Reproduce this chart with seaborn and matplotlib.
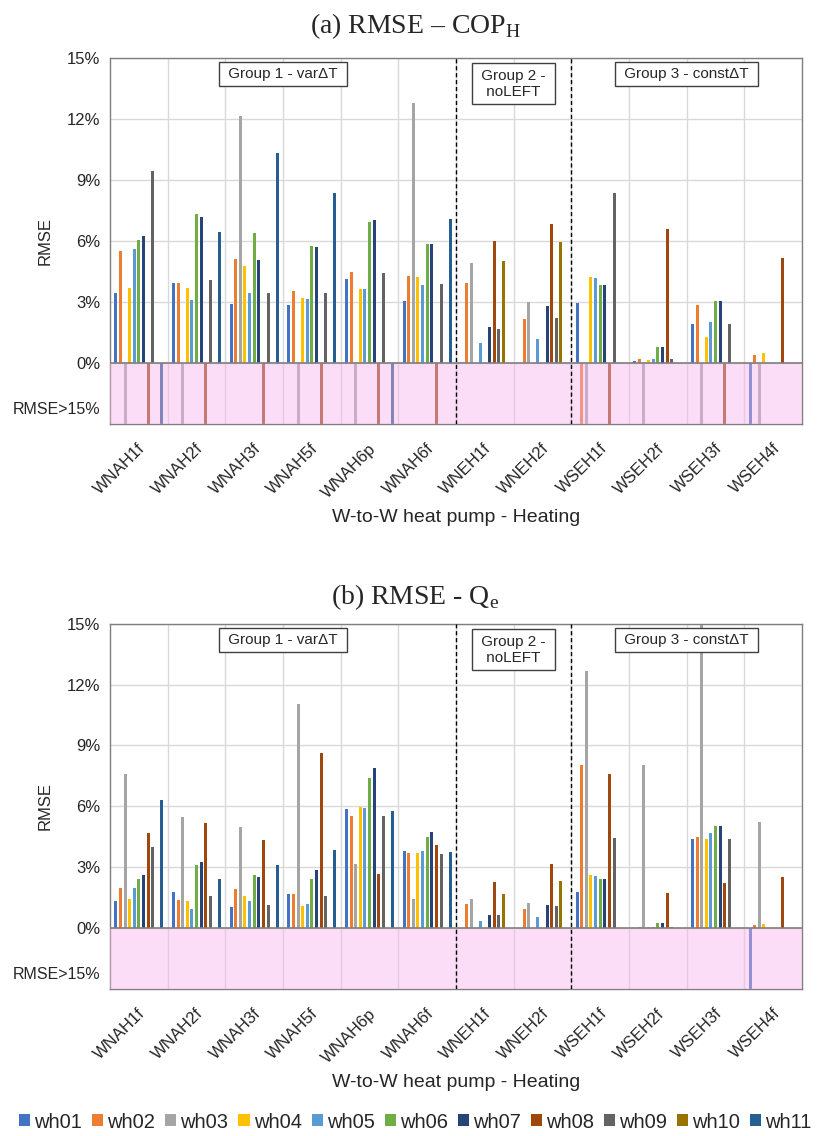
import numpy as np
import pandas as pd
import matplotlib
matplotlib.use('Agg')
import matplotlib.pyplot as plt
import matplotlib.transforms as mtransforms
from matplotlib.patches import Patch
import seaborn as sns

nan = np.nan
OVER = np.inf   # RMSE above 15 %, shown in the pink "RMSE>15%" band

cases = ['WNAH1f', 'WNAH2f', 'WNAH3f', 'WNAH5f', 'WNAH6p', 'WNAH6f',
         'WNEH1f', 'WNEH2f', 'WSEH1f', 'WSEH2f', 'WSEH3f', 'WSEH4f']
series = ['wh01', 'wh02', 'wh03', 'wh04', 'wh05', 'wh06',
          'wh07', 'wh08', 'wh09', 'wh10', 'wh11']
colors = ['#4472C4', '#ED7D31', '#A5A5A5', '#FFC000', '#5B9BD5', '#70AD47',
          '#264478', '#9E480E', '#636363', '#997300', '#255E91']

# (a) RMSE - COP_H  (%)
cop_wh01 = [3.44, 3.92, 2.87, 2.84, 4.13, 3.03, nan, nan, 2.93, 0.07, 1.89, OVER]
cop_wh02 = [5.52, 3.92, 5.10, 3.54, 4.48, 4.28, 3.93, 2.15, OVER, 0.21, 2.82, 0.39]
cop_wh03 = [OVER, OVER, 12.11, OVER, OVER, 12.77, 4.89, 2.98, OVER, OVER, OVER, OVER]
cop_wh04 = [3.66, 3.67, 4.75, 3.20, 3.62, 4.20, nan, nan, 4.20, 0.16, 1.28, 0.49]
cop_wh05 = [5.59, 3.11, 3.41, 3.13, 3.62, 3.82, 1.00, 1.18, 4.18, 0.20, 2.02, nan]
cop_wh06 = [6.03, 7.30, 6.38, 5.75, 6.93, 5.85, nan, nan, 3.82, 0.77, 3.03, nan]
cop_wh07 = [6.25, 7.15, 5.05, 5.69, 7.03, 5.82, 1.74, 2.80, 3.82, 0.77, 3.03, nan]
cop_wh08 = [OVER, OVER, OVER, OVER, OVER, OVER, 5.97, 6.80, OVER, 6.56, OVER, 5.16]
cop_wh09 = [9.43, 4.07, 3.43, 3.43, 4.43, 3.90, 1.66, 2.21, 8.34, 0.21, 1.89, nan]
cop_wh10 = [nan, nan, nan, nan, nan, nan, 5.02, 5.92, nan, nan, nan, nan]
cop_wh11 = [OVER, 6.43, 10.31, 8.36, OVER, 7.07, nan, nan, nan, nan, nan, nan]

# (b) RMSE - Qe  (%)
qe_wh01 = [1.34, 1.77, 1.05, 1.66, 5.85, 3.79, nan, nan, 1.77, 0.02, 4.41, OVER]
qe_wh02 = [1.97, 1.39, 1.93, 1.70, 5.54, 3.72, 1.21, 0.95, 8.03, 0.05, 4.49, 0.15]
qe_wh03 = [7.59, 5.46, 4.97, 11.02, 3.15, 1.44, 1.43, 1.26, 12.69, 8.03, 15.0, 5.25]
qe_wh04 = [1.43, 1.36, 1.56, 1.10, 5.95, 3.72, nan, nan, 2.62, 0.05, 4.41, 0.18]
qe_wh05 = [1.98, 0.95, 1.34, 1.20, 5.90, 3.79, 0.36, 0.56, 2.57, 0.05, 4.69, nan]
qe_wh06 = [2.43, 3.11, 2.64, 2.44, 7.41, 4.48, nan, nan, 2.43, 0.26, 5.02, nan]
qe_wh07 = [2.62, 3.25, 2.51, 2.84, 7.90, 4.75, 0.66, 1.15, 2.43, 0.26, 5.02, nan]
qe_wh08 = [4.70, 5.18, 4.33, 8.64, 2.67, 4.08, 2.26, 3.15, 7.59, 1.72, 2.21, 2.51]
qe_wh09 = [4.02, 1.56, 1.15, 1.56, 5.52, 3.66, 0.66, 1.07, 4.46, 0.07, 4.41, nan]
qe_wh10 = [nan, nan, nan, nan, nan, nan, 1.69, 2.34, nan, nan, nan, nan]
qe_wh11 = [6.31, 2.41, 3.10, 3.87, 5.75, 3.75, nan, nan, nan, nan, nan, nan]

cop_all = [cop_wh01, cop_wh02, cop_wh03, cop_wh04, cop_wh05, cop_wh06,
           cop_wh07, cop_wh08, cop_wh09, cop_wh10, cop_wh11]
qe_all = [qe_wh01, qe_wh02, qe_wh03, qe_wh04, qe_wh05, qe_wh06,
          qe_wh07, qe_wh08, qe_wh09, qe_wh10, qe_wh11]

BAND = 3  # depth of the pink band below 0 %


def to_frame(cols):
    rows = []
    for s, vals in zip(series, cols):
        for c, v in zip(cases, vals):
            if not np.isnan(v):
                rows.append((c, s, v))
    df = pd.DataFrame(rows, columns=['case', 'series', 'rmse'])
    # values over 15 % are drawn downwards inside the band
    df['bar'] = np.where(np.isinf(df['rmse']), -BAND, df['rmse'])
    return df


sns.set_theme(style='white')
plt.rcParams['font.family'] = ['Liberation Sans', 'DejaVu Sans']
plt.rcParams['mathtext.fontset'] = 'custom'
plt.rcParams['mathtext.rm'] = 'Liberation Serif'

fig = plt.figure(figsize=(8.31, 11.36), dpi=100)
ax1 = fig.add_axes([0.1324, 0.6268, 0.8327, 0.3225])
ax2 = fig.add_axes([0.1324, 0.1294, 0.8327, 0.3216])


def draw(ax, df):
    sns.barplot(data=df, x='case', y='bar', hue='series', order=cases,
                hue_order=series, palette=colors, saturation=1, width=0.88,
                gap=0.35, linewidth=0, errorbar=None, legend=False, ax=ax,
                zorder=2)
    ax.set_xlim(-0.5, len(cases) - 0.5)
    ax.set_ylim(-BAND, 15)

    # pink band for RMSE > 15 %
    ax.axhspan(-BAND, 0, color='#F7B5EE', alpha=0.45, lw=0, zorder=3)
    ax.axhline(0, color='#7f7f7f', lw=1.2, zorder=4)

    ax.set_yticks([0, 3, 6, 9, 12, 15], ['0%', '3%', '6%', '9%', '12%', '15%'])
    ax.set_yticks([-2.2], ['RMSE>15%'], minor=True)
    ax.tick_params(axis='y', which='major', length=0, pad=7, labelsize=12)
    ax.tick_params(axis='y', which='minor', length=0, pad=7, labelsize=11.5)
    ax.yaxis.grid(True, which='major', color='#D9D9D9', lw=1)
    ax.set_xticks(np.arange(0.5, len(cases) - 1), minor=True)
    ax.xaxis.grid(True, which='minor', color='#D9D9D9', lw=1)
    ax.set_axisbelow(True)

    ax.set_xticks(range(len(cases)))
    ax.set_xticklabels(cases, rotation=45, ha='right', va='center',
                       rotation_mode='anchor')
    ax.tick_params(axis='x', which='both', length=0, pad=16, labelsize=12)
    shift = mtransforms.ScaledTranslation(3 / 72, 0, fig.dpi_scale_trans)
    for lbl in ax.get_xticklabels():
        lbl.set_transform(lbl.get_transform() + shift)

    for sp in ax.spines.values():
        sp.set_color('#7f7f7f')
        sp.set_linewidth(1)

    for x in [5.5, 7.5]:
        ax.axvline(x, color='black', ls=(0, (3, 2)), lw=1.0, zorder=5)

    trans = mtransforms.blended_transform_factory(ax.transData, ax.transAxes)
    box = dict(boxstyle='square,pad=0.35', fc='white', ec='#404040', lw=1)
    ax.text(2.5, 0.955, ' Group 1 - var\u0394T ', transform=trans, ha='center',
            va='center', fontsize=11, bbox=box, zorder=6)
    ax.text(6.5, 0.929, ' Group 2 - \n noLEFT ', transform=trans, ha='center',
            va='center', fontsize=11, bbox=box, zorder=6, linespacing=1.2)
    ax.text(9.5, 0.955, ' Group 3 - const\u0394T ', transform=trans,
            ha='center', va='center', fontsize=11, bbox=box, zorder=6)

    ax.set_ylabel('RMSE', fontsize=12, va='center')
    ax.yaxis.set_label_coords(-0.094, 0.5)
    ax.set_xlabel('W-to-W heat pump - Heating', fontsize=14, va='center')
    ax.xaxis.set_label_coords(0.5, -0.255)


draw(ax1, to_frame(cop_all))
draw(ax2, to_frame(qe_all))

fig.text(0.5, 0.977, '(a) RMSE \u2013 COP$_{\\mathrm{H}}$', ha='center',
         va='center', fontsize=20, fontfamily='Liberation Serif')
fig.text(0.5, 0.4745, '(b) RMSE - Q$_{\\mathrm{e}}$', ha='center',
         va='center', fontsize=20, fontfamily='Liberation Serif')

handles = [Patch(facecolor=c, edgecolor='none') for c in colors]
fig.legend(handles, series, loc='center', bbox_to_anchor=(0.5, 1 - 1122 / 1136),
           ncol=len(series), frameon=False, fontsize=14.5, handlelength=0.55,
           handleheight=0.55, handletextpad=0.2, columnspacing=0.5,
           borderaxespad=0, borderpad=0)

fig.savefig('out.png', dpi=100)
